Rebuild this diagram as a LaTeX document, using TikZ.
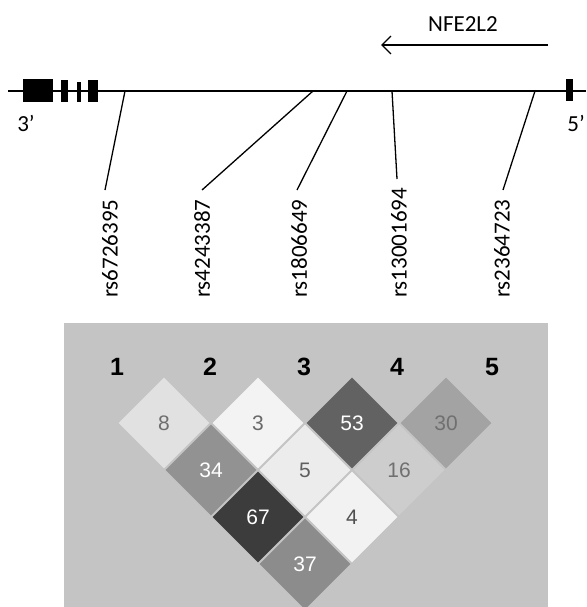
\documentclass[tikz,border=0pt]{standalone}
\usepackage{fontspec}
\setmainfont{Carlito}
\newfontfamily\arialf{Liberation Sans}
\usetikzlibrary{shapes.geometric,arrows.meta}
\definecolor{panelbg}{HTML}{C4C4C4}
\tikzset{
  exon/.style={fill=black,draw=none},
  snpline/.style={line width=1.3pt},
  snplabel/.style={rotate=90,anchor=west,inner sep=0pt,font=\fontsize{23}{25}\selectfont},
  endlabel/.style={inner sep=0pt,font=\fontsize{23}{25}\selectfont},
  ldcell/.style={shape=diamond,aspect=1,inner sep=0pt,minimum width=91pt,minimum height=91pt,draw=none,font=\arialf\fontsize{21}{23}\selectfont},
  ldhead/.style={inner sep=0pt,font=\arialf\bfseries\fontsize{25}{27}\selectfont}
}
\begin{document}
\begin{tikzpicture}[x=1pt,y=-1pt]
\useasboundingbox (0,0) rectangle (586,607);
% gene
\draw[line width=2.8pt] (8,91) -- (586,91);
\fill[exon] (23,79) rectangle (53,102);
\fill[exon] (61,80) rectangle (68,102);
\fill[exon] (77,82) rectangle (81,102);
\fill[exon] (88,80) rectangle (98,102);
\fill[exon] (566,79) rectangle (573,101);
\node[endlabel] (p3) at (26,123) {3’};
\node[endlabel,anchor=east] (p5) at (585,123) {5’};
% direction
\coordinate (arrS) at (548,45);
\coordinate (arrE) at (381,45);
\draw[line width=1.3pt,-{Straight Barb[length=9pt,width=18pt,line width=1.3pt]}] (arrS) -- (arrE);
\node[endlabel] (gene) at (463,24) {NFE2L2};
% SNPs
\coordinate (t1) at (125,91); \coordinate (t2) at (313,91); \coordinate (t3) at (347,91);
\coordinate (t4) at (392,91); \coordinate (t5) at (535,91);
\node[snplabel] (s1) at (110,298) {rs6726395};
\node[snplabel] (s2) at (202,298) {rs4243387};
\node[snplabel] (s3) at (299,298) {rs1806649};
\node[snplabel] (s4) at (399,298) {rs13001694};
\node[snplabel] (s5) at (502,298) {rs2364723};
\coordinate (b1) at (105,190); \coordinate (b2) at (202,190); \coordinate (b3) at (297,190);
\coordinate (b4) at (397,179); \coordinate (b5) at (503,190);
\draw[snpline] (t1) -- (b1);
\draw[snpline] (t2) -- (b2);
\draw[snpline] (t3) -- (b3);
\draw[snpline] (t4) -- (b4);
\draw[snpline] (t5) -- (b5);
% LD panel
\fill[panelbg] (64,323) rectangle (548,607);
\node[ldhead] (h1) at (117,367) {1};
\node[ldhead] (h2) at (210,367) {2};
\node[ldhead] (h3) at (304,367) {3};
\node[ldhead] (h4) at (397,367) {4};
\node[ldhead] (h5) at (492,367) {5};
\node[ldcell,fill={rgb,255:red,225;green,225;blue,225},text={rgb,255:red,110;green,110;blue,110}] (c12) at (164,423) {8};
\node[ldcell,fill={rgb,255:red,243;green,243;blue,243},text={rgb,255:red,105;green,105;blue,105}] (c23) at (258,423) {3};
\node[ldcell,fill={rgb,255:red,98;green,98;blue,98},text=white] (c34) at (352,423) {53};
\node[ldcell,fill={rgb,255:red,163;green,163;blue,163},text={rgb,255:red,112;green,112;blue,112}] (c45) at (446,423) {30};
\node[ldcell,fill={rgb,255:red,146;green,146;blue,146},text=white] (c13) at (211,470) {34};
\node[ldcell,fill={rgb,255:red,236;green,236;blue,236},text={rgb,255:red,95;green,95;blue,95}] (c24) at (305,470) {5};
\node[ldcell,fill={rgb,255:red,205;green,205;blue,205},text={rgb,255:red,112;green,112;blue,112}] (c35) at (399,470) {16};
\node[ldcell,fill={rgb,255:red,60;green,60;blue,60},text=white] (c14) at (258,517) {67};
\node[ldcell,fill={rgb,255:red,242;green,242;blue,242},text={rgb,255:red,80;green,80;blue,80}] (c25) at (352,517) {4};
\node[ldcell,fill={rgb,255:red,140;green,140;blue,140},text=white] (c15) at (305,564) {37};
\end{tikzpicture}
\end{document}
